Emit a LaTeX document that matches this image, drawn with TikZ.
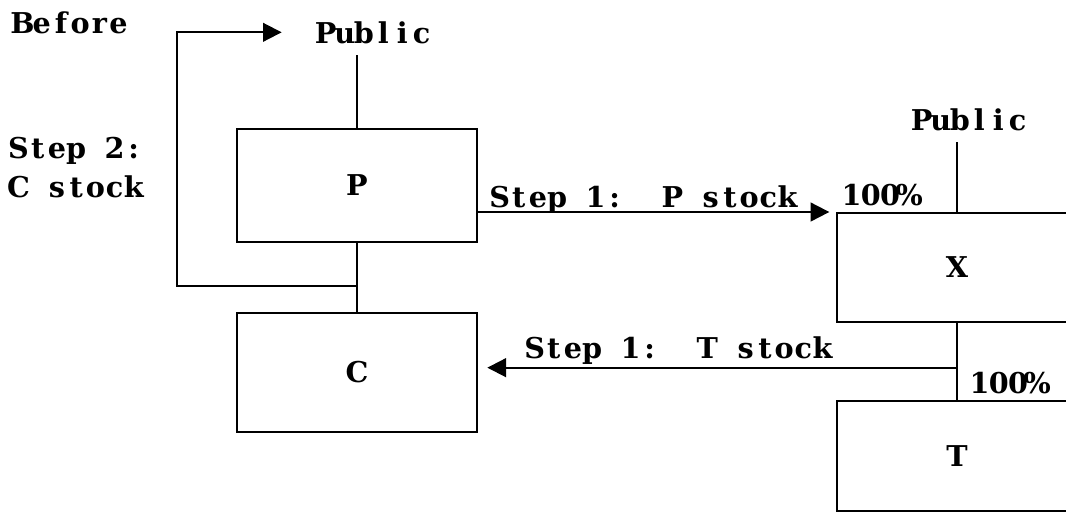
\documentclass[tikz,border=0pt]{standalone}
\usepackage{fontspec}
\setmainfont{DejaVu Serif}
\usetikzlibrary{arrows.meta,calc}
\newcommand\mono[1]{\monoloop#1\relax}
\def\monoloop#1{\ifx#1\relax\else\hbox to 14.4pt{\hss#1\hss}\expandafter\monoloop\fi}
\tikzset{
  box/.style={draw,minimum width=180pt,inner sep=0pt},
  lbl/.style={inner xsep=0pt,inner ysep=8pt,anchor=base west},
  arr/.style={-{Triangle[length=14pt,width=14pt]}}
}
\begin{document}
\begin{tikzpicture}[x=0.75pt,y=-0.75pt,line width=1.5pt,font=\fontsize{21.5}{25}\selectfont\bfseries]
\useasboundingbox (0,0) rectangle (1066,512);
\clip (0,0) rectangle (1066,512);
\node[box,minimum height=84.75pt] (P) at (357,185.5) {P};
\node[box,minimum height=89.25pt] (C) at (357,372.5) {C};
\node[box,minimum height=81.75pt] (X) at (957,267.5) {X};
\node[box,minimum height=82.5pt] (T) at (957,456) {T};
\foreach \n/\x/\y/\t in {before/12/33/Before,pubP/315/43/Public,step2/8/158/Step~2:,cstock/8/197/C~stock,
  stepP/489/207/Step~1:~~P~stock,stepT/524/358/Step~1:~~T~stock,pctX/841/205/100\%,pctT/969/393/100\%,pubX/911/130/Public}
  {\node[lbl] (\n) at (\x,\y) {\expandafter\mono\expandafter{\t}};}
\draw (pubP.south -| P.north) -- (P.north);
\draw (pubX.south -| X.north) -- (X.north);
\draw (P) -- (C);
\draw (X) -- (T);
\coordinate (loop) at ($(P.south)!0.62!(C.north)$);
\draw[arr,shorten >=25pt] (loop) -- ++(-180,0) |- (pubP.west);
\draw[arr,shorten >=5pt] (P.east |- X.north west) -- (X.north west);
\coordinate (xt) at ($(X.south)!0.58!(T.north)$);
\draw[arr,shorten >=7pt] (xt) -- (xt -| C.east);
\end{tikzpicture}
\end{document}
